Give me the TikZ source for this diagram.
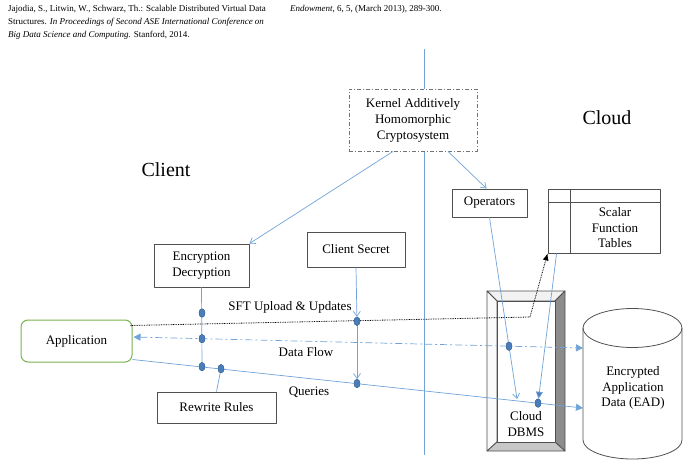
\documentclass[tikz,border=0pt]{standalone}
\usepackage{fontspec}
\setmainfont{Liberation Serif}
\usetikzlibrary{arrows.meta,shapes.geometric}
\definecolor{flowblue}{RGB}{112,163,216}
\definecolor{dotblue}{RGB}{74,126,187}
\definecolor{appgreen}{RGB}{122,178,82}
\definecolor{boxgray}{RGB}{80,80,80}
\begin{document}
\begin{tikzpicture}[x=1pt,y=-1pt,line join=round,
  font=\fontsize{13}{15.5}\selectfont,
  box/.style={draw=boxgray,line width=.9pt,fill=white,align=center,inner sep=0pt},
  flow/.style={draw=flowblue,line width=.7pt},
  dot/.style={ellipse,fill=dotblue,draw=dotblue!80!black,line width=.3pt,
    minimum width=6pt,minimum height=8.5pt,inner sep=0pt},
  barb/.style={-{Straight Barb[length=5pt,width=7pt]}},
  tri/.style={-{Triangle[length=7pt,width=7pt]}}]
  \useasboundingbox (0,0) rectangle (695,460);
  \node[anchor=north west,align=left,inner sep=0pt,
    font=\fontsize{9}{13}\selectfont] (ref) at (8,5)
    {Jajodia, S., Litwin, W., Schwarz, Th.: Scalable Distributed Virtual Data\\
     Structures. \textit{In Proceedings of Second ASE International Conference on}\\
     \textit{Big Data Science and Computing.} Stanford, 2014.};
  \node[anchor=north west,inner sep=0pt,font=\fontsize{9}{13}\selectfont]
    (ref2) at (290,5) {\textit{Endowment}, 6, 5, (March 2013), 289-300.};
  \coordinate (divtop) at (424,49);
  \coordinate (divbot) at (424,455);
  \draw[flow] (divtop) -- (divbot);
  \node[font=\fontsize{20}{24}\selectfont] (client) at (166,170) {Client};
  \node[font=\fontsize{20}{24}\selectfont] (cloud) at (607,118) {Cloud};
  \begin{scope}[draw=boxgray,line width=.8pt]
    \filldraw[fill=black!5] (487,291) -- (565,291) -- (555,301) -- (497,301) -- cycle;
    \filldraw[fill=black!2] (487,291) -- (497,301) -- (497,442) -- (487,451) -- cycle;
    \filldraw[fill=black!45] (565,291) -- (565,451) -- (555,442) -- (555,301) -- cycle;
    \filldraw[fill=black!22] (487,451) -- (565,451) -- (555,442) -- (497,442) -- cycle;
    \filldraw[fill=white] (497,301) rectangle (555,442);
  \end{scope}
  \node[align=center,inner sep=0pt] (dbms) at (526,424) {Cloud\\DBMS};
  \draw[draw=boxgray,line width=.8pt,fill=white] (583,328) -- (583,440)
    arc[start angle=180,end angle=0,x radius=49.5,y radius=19] -- (682,328);
  \draw[draw=boxgray,line width=.8pt] (632.5,328) ellipse[x radius=49.5,y radius=19.5];
  \node[align=center,inner sep=0pt] (ead) at (633,388)
    {Encrypted\\Application\\Data (EAD)};
  \coordinate (eaddf) at (583,348);
  \coordinate (eadq) at (583,408);
  \node[box,draw=black!55,dash pattern=on 4pt off 2pt on 1pt off 2pt,
    minimum width=128pt,minimum height=62pt,font=\fontsize{13}{16}\selectfont]
    (kernel) at (413,120) {Kernel Additively\\Homomorphic\\Cryptosystem};
  \node[box,minimum width=75pt,minimum height=28pt] (ops) at (489.5,203) {Operators};
  \node[box,minimum width=112pt,minimum height=64pt] (sft) at (604,221) {};
  \draw[draw=boxgray,line width=.9pt] (570,189) -- (570,253)
    (548,202) -- (660,202);
  \node[align=center,inner sep=0pt] (sfttext) at (615,228)
    {Scalar\\Function\\Tables};
  \node[box,minimum width=95pt,minimum height=43pt] (enc) at (201.5,265.5)
    {Encryption\\Decryption};
  \node[box,minimum width=98pt,minimum height=35pt] (cs) at (356,249.5) {Client Secret};
  \node[box,minimum width=119pt,minimum height=31pt] (rw) at (216.5,407.5) {Rewrite Rules};
  \node[box,draw=appgreen,line width=1pt,rounded corners=7pt,
    minimum width=111pt,minimum height=42pt] (app) at (76.5,341) {Application};
  \node (lsft) at (290,307) {SFT Upload \& Updates};
  \node (ldf) at (306,352) {Data Flow};
  \node (lq) at (309,392) {Queries};
  \node[dot] (e1) at (202,313) {};
  \node[dot] (e2) at (202,338.7) {};
  \node[dot] (q1) at (202,366.6) {};
  \node[dot] (q2) at (221,368.7) {};
  \node[dot] (c1) at (357,321.3) {};
  \node[dot] (q3) at (357,383.5) {};
  \node[dot] (o1) at (509,346.2) {};
  \node[dot] (q4) at (538,403.1) {};
  \coordinate (bend) at (530,317);
  \coordinate (opsend) at (517,399);
  \draw[flow,barb] ([xshift=-20pt]kernel.south) -- (enc.north east);
  \draw[flow,barb] ([xshift=35pt]kernel.south) -- ([xshift=-3pt]ops.north);
  \draw[flow] (enc.south) -- (q1.center);
  \draw[flow] (rw.north) -- (q2.center);
  \draw[flow,tri] ([yshift=3pt]app.south east) -- (eadq);
  \draw[flow,dash pattern=on 7pt off 3pt on 2pt off 3pt,
    {Triangle[length=7pt,width=7pt]}-{Triangle[length=7pt,width=7pt]}]
    ([yshift=4pt,xshift=1pt]app.east) -- (eaddf);
  \draw[black,line width=.8pt,dash pattern=on .8pt off .9pt,
    -{Latex[length=7pt,width=6pt]}]
    ([yshift=-6pt,xshift=-2pt]app.north east) -- (bend) -- (sft.south west);
  \draw[flow,barb] (cs.south) -- (c1);
  \draw[flow,barb] (c1) -- (q3);
  \draw[flow,barb] (ops.south) -- (opsend);
  \draw[flow,-{Triangle[length=7pt,width=7pt]},arrows={[fill=dotblue]}]
    ([xshift=9pt]sft.south west) -- (q4);
  \node[dot] at (e1) {};
  \node[dot] at (e2) {};
  \node[dot] at (q1) {};
  \node[dot] at (q2) {};
  \node[dot] at (c1) {};
  \node[dot] at (q3) {};
  \node[dot] at (o1) {};
  \node[dot] at (q4) {};
\end{tikzpicture}
\end{document}
